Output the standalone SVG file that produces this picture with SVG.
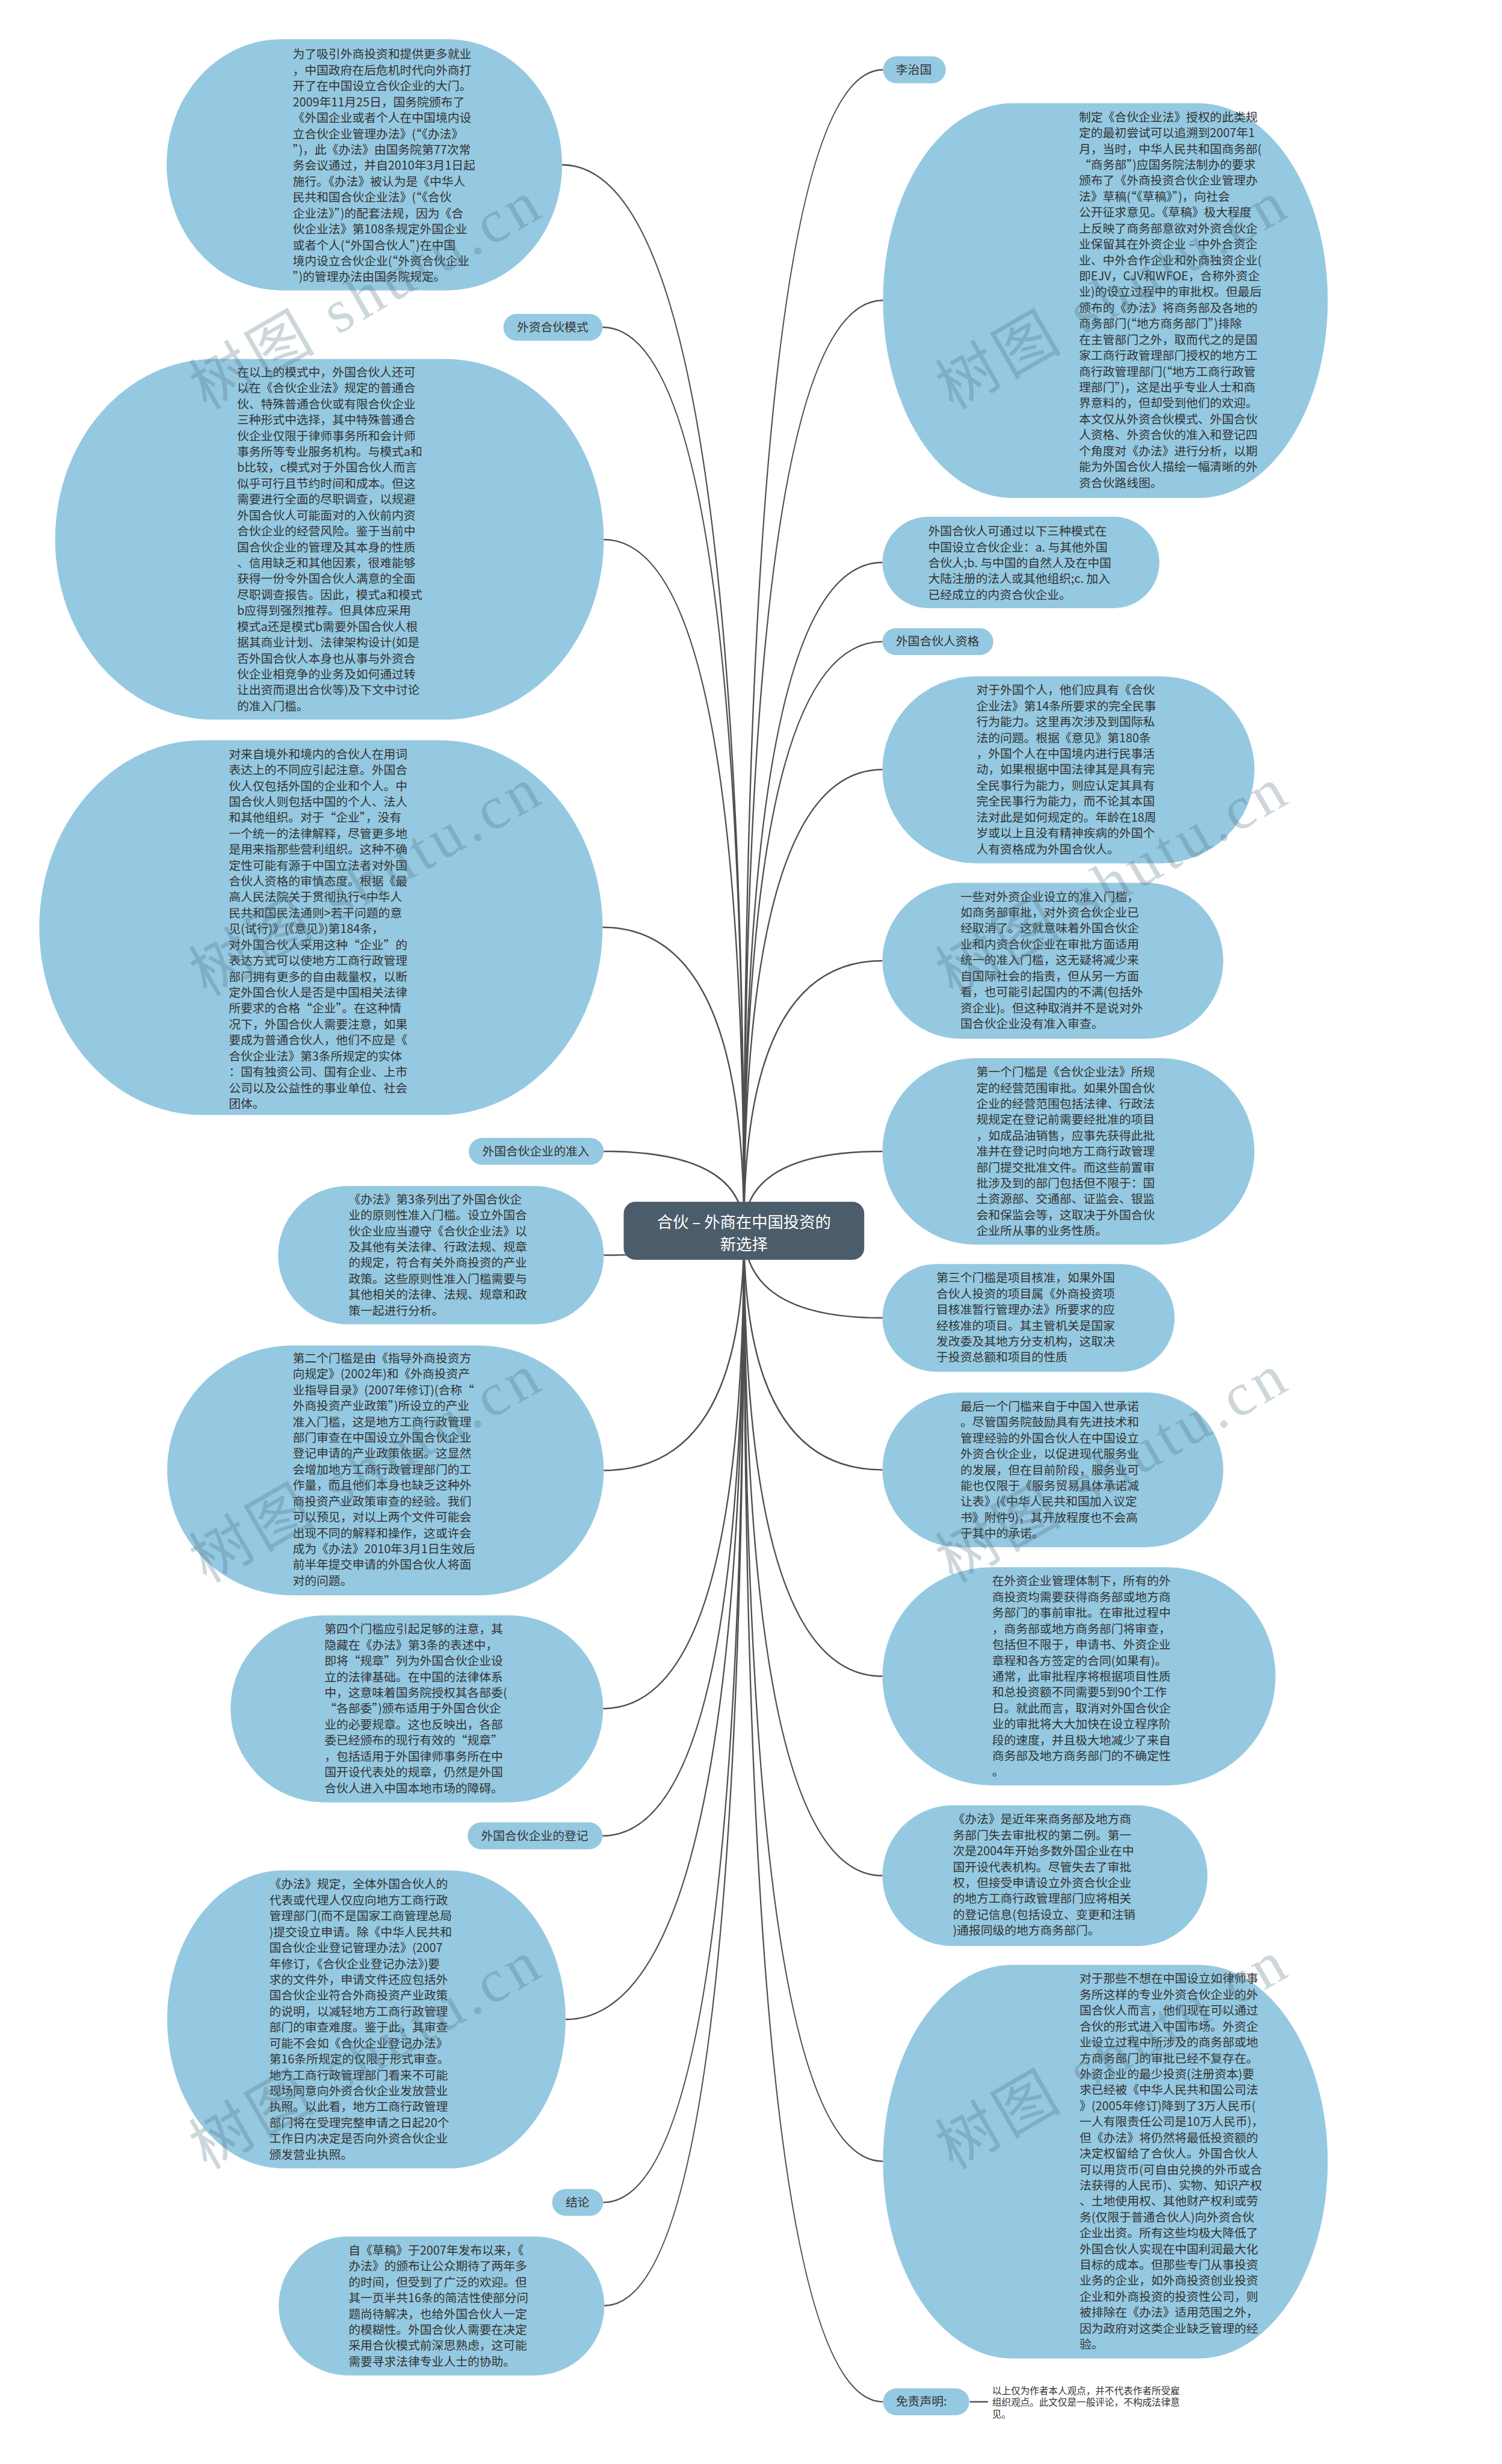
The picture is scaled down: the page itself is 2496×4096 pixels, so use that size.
<svg xmlns="http://www.w3.org/2000/svg" width="2496" height="4096" viewBox="0 0 2496 4096">
<style>
.n{fill:#95c9e1}
.lb{fill:#95c9e1}
.t{font-family:"Noto Sans CJK SC","Noto Sans",sans-serif;font-size:20.3px;fill:#333333}
.c{fill:none;stroke:#4f4f4f;stroke-width:2.5}
.ct{font-family:"Noto Sans CJK SC","Noto Sans",sans-serif;font-size:27px;fill:#ffffff;text-anchor:middle}
.d{font-family:"Noto Sans CJK SC","Noto Sans",sans-serif;font-size:16px;fill:#333333}
.wm{font-family:"Liberation Serif","Noto Sans CJK SC",serif;font-size:104px;fill:#4a6b7c;fill-opacity:0.28;letter-spacing:8px}
</style>
<rect x="0" y="0" width="2496" height="4096" fill="#ffffff"/>
<g transform="scale(0.975)">
<g id="connectors">
<path class="c" d="M1268 2098 Q1268 281 958 281"/>
<path class="c" d="M1268 2098 Q1268 558 1027 558"/>
<path class="c" d="M1268 2098 Q1268 920 1029 920"/>
<path class="c" d="M1268 2098 Q1268 1581 1027 1581"/>
<path class="c" d="M1268 2098 Q1268 1963 1029 1963"/>
<path class="c" d="M1268 2098 Q1268 2140 1029 2140"/>
<path class="c" d="M1268 2098 Q1268 2507 1029 2507"/>
<path class="c" d="M1268 2098 Q1268 2913 1028 2913"/>
<path class="c" d="M1268 2098 Q1268 3130 1027 3130"/>
<path class="c" d="M1268 2098 Q1268 3443 964 3443"/>
<path class="c" d="M1268 2098 Q1268 3755 1028 3755"/>
<path class="c" d="M1268 2098 Q1268 3931 1030 3931"/>
<path class="c" d="M1268 2098 Q1268 119 1505 119"/>
<path class="c" d="M1268 2098 Q1268 512 1505 512"/>
<path class="c" d="M1268 2098 Q1268 959 1504 959"/>
<path class="c" d="M1268 2098 Q1268 1094 1504 1094"/>
<path class="c" d="M1268 2098 Q1268 1312 1504 1312"/>
<path class="c" d="M1268 2098 Q1268 1638 1504 1638"/>
<path class="c" d="M1268 2098 Q1268 1963 1504 1963"/>
<path class="c" d="M1268 2098 Q1268 2247 1504 2247"/>
<path class="c" d="M1268 2098 Q1268 2506 1504 2506"/>
<path class="c" d="M1268 2098 Q1268 2858 1504 2858"/>
<path class="c" d="M1268 2098 Q1268 3198 1504 3198"/>
<path class="c" d="M1268 2098 Q1268 3685 1505 3685"/>
<path class="c" d="M1268 2098 Q1268 4095 1505 4095"/>
<path class="c" d="M1653 4095 L1684 4095"/>
</g>

<g id="center">
<rect x="1063" y="2049" width="410" height="99" rx="20" fill="#4b5c6b"/>
<text class="ct" x="1268" y="2093">合伙 – 外商在中国投资的</text>
<text class="ct" x="1268" y="2131">新选择</text>
</g>

<g id="L1">
<rect class="n" x="284" y="67" width="674" height="428" rx="195" ry="214"/>
<text class="t" x="499" y="100"><tspan x="499">为了吸引外商投资和提供更多就业</tspan><tspan x="499" dy="27.1">，中国政府在后危机时代向外商打</tspan><tspan x="499" dy="27.1">开了在中国设立合伙企业的大门。</tspan><tspan x="499" dy="27.1">2009年11月25日，国务院颁布了</tspan><tspan x="499" dy="27.1">《外国企业或者个人在中国境内设</tspan><tspan x="499" dy="27.1">立合伙企业管理办法》(“《办法》</tspan><tspan x="499" dy="27.1">”)，此《办法》由国务院第77次常</tspan><tspan x="499" dy="27.1">务会议通过，并自2010年3月1日起</tspan><tspan x="499" dy="27.1">施行。《办法》被认为是《中华人</tspan><tspan x="499" dy="27.1">民共和国合伙企业法》(“《合伙</tspan><tspan x="499" dy="27.1">企业法》”)的配套法规，因为《合</tspan><tspan x="499" dy="27.1">伙企业法》第108条规定外国企业</tspan><tspan x="499" dy="27.1">或者个人(“外国合伙人”)在中国</tspan><tspan x="499" dy="27.1">境内设立合伙企业(“外资合伙企业</tspan><tspan x="499" dy="27.1">”)的管理办法由国务院规定。</tspan></text>
</g>

<g id="label-mode">
<rect class="lb" x="858" y="535" width="169" height="46" rx="23"/>
<text class="t" x="881" y="565">外资合伙模式</text>
</g>

<g id="L2">
<rect class="n" x="94" y="612" width="935" height="615" rx="271" ry="307.5"/>
<text class="t" x="404" y="642"><tspan x="404">在以上的模式中，外国合伙人还可</tspan><tspan x="404" dy="27.1">以在《合伙企业法》规定的普通合</tspan><tspan x="404" dy="27.1">伙、特殊普通合伙或有限合伙企业</tspan><tspan x="404" dy="27.1">三种形式中选择，其中特殊普通合</tspan><tspan x="404" dy="27.1">伙企业仅限于律师事务所和会计师</tspan><tspan x="404" dy="27.1">事务所等专业服务机构。与模式a和</tspan><tspan x="404" dy="27.1">b比较，c模式对于外国合伙人而言</tspan><tspan x="404" dy="27.1">似乎可行且节约时间和成本。但这</tspan><tspan x="404" dy="27.1">需要进行全面的尽职调查，以规避</tspan><tspan x="404" dy="27.1">外国合伙人可能面对的入伙前内资</tspan><tspan x="404" dy="27.1">合伙企业的经营风险。鉴于当前中</tspan><tspan x="404" dy="27.1">国合伙企业的管理及其本身的性质</tspan><tspan x="404" dy="27.1">、信用缺乏和其他因素，很难能够</tspan><tspan x="404" dy="27.1">获得一份令外国合伙人满意的全面</tspan><tspan x="404" dy="27.1">尽职调查报告。因此，模式a和模式</tspan><tspan x="404" dy="27.1">b应得到强烈推荐。但具体应采用</tspan><tspan x="404" dy="27.1">模式a还是模式b需要外国合伙人根</tspan><tspan x="404" dy="27.1">据其商业计划、法律架构设计(如是</tspan><tspan x="404" dy="27.1">否外国合伙人本身也从事与外资合</tspan><tspan x="404" dy="27.1">伙企业相竞争的业务及如何通过转</tspan><tspan x="404" dy="27.1">让出资而退出合伙等)及下文中讨论</tspan><tspan x="404" dy="27.1">的准入门槛。</tspan></text>
</g>

<g id="L3">
<rect class="n" x="67" y="1262" width="960" height="639" rx="278" ry="319.5"/>
<text class="t" x="390" y="1293"><tspan x="390">对来自境外和境内的合伙人在用词</tspan><tspan x="390" dy="27.1">表达上的不同应引起注意。外国合</tspan><tspan x="390" dy="27.1">伙人仅包括外国的企业和个人。中</tspan><tspan x="390" dy="27.1">国合伙人则包括中国的个人、法人</tspan><tspan x="390" dy="27.1">和其他组织。对于“企业”，没有</tspan><tspan x="390" dy="27.1">一个统一的法律解释，尽管更多地</tspan><tspan x="390" dy="27.1">是用来指那些营利组织。这种不确</tspan><tspan x="390" dy="27.1">定性可能有源于中国立法者对外国</tspan><tspan x="390" dy="27.1">合伙人资格的审慎态度。根据《最</tspan><tspan x="390" dy="27.1">高人民法院关于贯彻执行&lt;中华人</tspan><tspan x="390" dy="27.1">民共和国民法通则&gt;若干问题的意</tspan><tspan x="390" dy="27.1">见(试行)》(《意见》)第184条，</tspan><tspan x="390" dy="27.1">对外国合伙人采用这种“企业”的</tspan><tspan x="390" dy="27.1">表达方式可以使地方工商行政管理</tspan><tspan x="390" dy="27.1">部门拥有更多的自由裁量权，以断</tspan><tspan x="390" dy="27.1">定外国合伙人是否是中国相关法律</tspan><tspan x="390" dy="27.1">所要求的合格“企业”。在这种情</tspan><tspan x="390" dy="27.1">况下，外国合伙人需要注意，如果</tspan><tspan x="390" dy="27.1">要成为普通合伙人，他们不应是《</tspan><tspan x="390" dy="27.1">合伙企业法》第3条所规定的实体</tspan><tspan x="390" dy="27.1">：国有独资公司、国有企业、上市</tspan><tspan x="390" dy="27.1">公司以及公益性的事业单位、社会</tspan><tspan x="390" dy="27.1">团体。</tspan></text>
</g>

<g id="label-entry">
<rect class="lb" x="799" y="1940" width="230" height="46" rx="23"/>
<text class="t" x="822" y="1970">外国合伙企业的准入</text>
</g>

<g id="L4">
<rect class="n" x="474" y="2022" width="555" height="236" rx="118" ry="118"/>
<text class="t" x="594" y="2052"><tspan x="594">《办法》第3条列出了外国合伙企</tspan><tspan x="594" dy="27.1">业的原则性准入门槛。设立外国合</tspan><tspan x="594" dy="27.1">伙企业应当遵守《合伙企业法》以</tspan><tspan x="594" dy="27.1">及其他有关法律、行政法规、规章</tspan><tspan x="594" dy="27.1">的规定，符合有关外商投资的产业</tspan><tspan x="594" dy="27.1">政策。这些原则性准入门槛需要与</tspan><tspan x="594" dy="27.1">其他相关的法律、法规、规章和政</tspan><tspan x="594" dy="27.1">策一起进行分析。</tspan></text>
</g>

<g id="L5">
<rect class="n" x="285" y="2294" width="744" height="426" rx="213" ry="213"/>
<text class="t" x="499" y="2323"><tspan x="499">第二个门槛是由《指导外商投资方</tspan><tspan x="499" dy="27.1">向规定》(2002年)和《外商投资产</tspan><tspan x="499" dy="27.1">业指导目录》(2007年修订)(合称“</tspan><tspan x="499" dy="27.1">外商投资产业政策”)所设立的产业</tspan><tspan x="499" dy="27.1">准入门槛，这是地方工商行政管理</tspan><tspan x="499" dy="27.1">部门审查在中国设立外国合伙企业</tspan><tspan x="499" dy="27.1">登记申请的产业政策依据。这显然</tspan><tspan x="499" dy="27.1">会增加地方工商行政管理部门的工</tspan><tspan x="499" dy="27.1">作量，而且他们本身也缺乏这种外</tspan><tspan x="499" dy="27.1">商投资产业政策审查的经验。我们</tspan><tspan x="499" dy="27.1">可以预见，对以上两个文件可能会</tspan><tspan x="499" dy="27.1">出现不同的解释和操作，这或许会</tspan><tspan x="499" dy="27.1">成为《办法》2010年3月1日生效后</tspan><tspan x="499" dy="27.1">前半年提交申请的外国合伙人将面</tspan><tspan x="499" dy="27.1">对的问题。</tspan></text>
</g>

<g id="L6">
<rect class="n" x="393" y="2754" width="635" height="319" rx="159.5" ry="159.5"/>
<text class="t" x="553" y="2785"><tspan x="553">第四个门槛应引起足够的注意，其</tspan><tspan x="553" dy="27.1">隐藏在《办法》第3条的表述中，</tspan><tspan x="553" dy="27.1">即将“规章”列为外国合伙企业设</tspan><tspan x="553" dy="27.1">立的法律基础。在中国的法律体系</tspan><tspan x="553" dy="27.1">中，这意味着国务院授权其各部委(</tspan><tspan x="553" dy="27.1">“各部委”)颁布适用于外国合伙企</tspan><tspan x="553" dy="27.1">业的必要规章。这也反映出，各部</tspan><tspan x="553" dy="27.1">委已经颁布的现行有效的“规章”</tspan><tspan x="553" dy="27.1">，包括适用于外国律师事务所在中</tspan><tspan x="553" dy="27.1">国开设代表处的规章，仍然是外国</tspan><tspan x="553" dy="27.1">合伙人进入中国本地市场的障碍。</tspan></text>
</g>

<g id="label-registration">
<rect class="lb" x="797" y="3107" width="230" height="46" rx="23"/>
<text class="t" x="820" y="3137">外国合伙企业的登记</text>
</g>

<g id="L7">
<rect class="n" x="285" y="3189" width="679" height="508" rx="197" ry="254"/>
<text class="t" x="459" y="3220"><tspan x="459">《办法》规定，全体外国合伙人的</tspan><tspan x="459" dy="27.1">代表或代理人仅应向地方工商行政</tspan><tspan x="459" dy="27.1">管理部门(而不是国家工商管理总局</tspan><tspan x="459" dy="27.1">)提交设立申请。除《中华人民共和</tspan><tspan x="459" dy="27.1">国合伙企业登记管理办法》(2007</tspan><tspan x="459" dy="27.1">年修订，《合伙企业登记办法》)要</tspan><tspan x="459" dy="27.1">求的文件外，申请文件还应包括外</tspan><tspan x="459" dy="27.1">国合伙企业符合外商投资产业政策</tspan><tspan x="459" dy="27.1">的说明，以减轻地方工商行政管理</tspan><tspan x="459" dy="27.1">部门的审查难度。鉴于此，其审查</tspan><tspan x="459" dy="27.1">可能不会如《合伙企业登记办法》</tspan><tspan x="459" dy="27.1">第16条所规定的仅限于形式审查。</tspan><tspan x="459" dy="27.1">地方工商行政管理部门看来不可能</tspan><tspan x="459" dy="27.1">现场同意向外资合伙企业发放营业</tspan><tspan x="459" dy="27.1">执照。以此看，地方工商行政管理</tspan><tspan x="459" dy="27.1">部门将在受理完整申请之日起20个</tspan><tspan x="459" dy="27.1">工作日内决定是否向外资合伙企业</tspan><tspan x="459" dy="27.1">颁发营业执照。</tspan></text>
</g>

<g id="label-conclusion">
<rect class="lb" x="941" y="3732" width="87" height="46" rx="23"/>
<text class="t" x="964" y="3762">结论</text>
</g>

<g id="L8">
<rect class="n" x="475" y="3813" width="555" height="237" rx="118.5" ry="118.5"/>
<text class="t" x="594" y="3844"><tspan x="594">自《草稿》于2007年发布以来，《</tspan><tspan x="594" dy="27.1">办法》的颁布让公众期待了两年多</tspan><tspan x="594" dy="27.1">的时间，但受到了广泛的欢迎。但</tspan><tspan x="594" dy="27.1">其一页半共16条的简洁性使部分问</tspan><tspan x="594" dy="27.1">题尚待解决，也给外国合伙人一定</tspan><tspan x="594" dy="27.1">的模糊性。外国合伙人需要在决定</tspan><tspan x="594" dy="27.1">采用合伙模式前深思熟虑，这可能</tspan><tspan x="594" dy="27.1">需要寻求法律专业人士的协助。</tspan></text>
</g>

<g id="label-author">
<rect class="lb" x="1505" y="96" width="107" height="46" rx="23"/>
<text class="t" x="1527" y="126">李治国</text>
</g>

<g id="R1">
<rect class="n" x="1505" y="176" width="758" height="673" rx="220" ry="336.5"/>
<text class="t" x="1839" y="207"><tspan x="1839">制定《合伙企业法》授权的此类规</tspan><tspan x="1839" dy="27.1">定的最初尝试可以追溯到2007年1</tspan><tspan x="1839" dy="27.1">月，当时，中华人民共和国商务部(</tspan><tspan x="1839" dy="27.1">“商务部”)应国务院法制办的要求</tspan><tspan x="1839" dy="27.1">颁布了《外商投资合伙企业管理办</tspan><tspan x="1839" dy="27.1">法》草稿(“《草稿》”)，向社会</tspan><tspan x="1839" dy="27.1">公开征求意见。《草稿》极大程度</tspan><tspan x="1839" dy="27.1">上反映了商务部意欲对外资合伙企</tspan><tspan x="1839" dy="27.1">业保留其在外资企业 – 中外合资企</tspan><tspan x="1839" dy="27.1">业、中外合作企业和外商独资企业(</tspan><tspan x="1839" dy="27.1">即EJV，CJV和WFOE，合称外资企</tspan><tspan x="1839" dy="27.1">业)的设立过程中的审批权。但最后</tspan><tspan x="1839" dy="27.1">颁布的《办法》将商务部及各地的</tspan><tspan x="1839" dy="27.1">商务部门(“地方商务部门”)排除</tspan><tspan x="1839" dy="27.1">在主管部门之外，取而代之的是国</tspan><tspan x="1839" dy="27.1">家工商行政管理部门授权的地方工</tspan><tspan x="1839" dy="27.1">商行政管理部门(“地方工商行政管</tspan><tspan x="1839" dy="27.1">理部门”)，这是出乎专业人士和商</tspan><tspan x="1839" dy="27.1">界意料的，但却受到他们的欢迎。</tspan><tspan x="1839" dy="27.1">本文仅从外资合伙模式、外国合伙</tspan><tspan x="1839" dy="27.1">人资格、外资合伙的准入和登记四</tspan><tspan x="1839" dy="27.1">个角度对《办法》进行分析，以期</tspan><tspan x="1839" dy="27.1">能为外国合伙人描绘一幅清晰的外</tspan><tspan x="1839" dy="27.1">资合伙路线图。</tspan></text>
</g>

<g id="R2">
<rect class="n" x="1504" y="881" width="472" height="156" rx="78" ry="78"/>
<text class="t" x="1582" y="913"><tspan x="1582">外国合伙人可通过以下三种模式在</tspan><tspan x="1582" dy="27.1">中国设立合伙企业：a. 与其他外国</tspan><tspan x="1582" dy="27.1">合伙人;b. 与中国的自然人及在中国</tspan><tspan x="1582" dy="27.1">大陆注册的法人或其他组织;c. 加入</tspan><tspan x="1582" dy="27.1">已经成立的内资合伙企业。</tspan></text>
</g>

<g id="label-qualification">
<rect class="lb" x="1504" y="1071" width="189" height="46" rx="23"/>
<text class="t" x="1527" y="1101">外国合伙人资格</text>
</g>

<g id="R3">
<rect class="n" x="1504" y="1153" width="634" height="319" rx="159.5" ry="159.5"/>
<text class="t" x="1664" y="1184"><tspan x="1664">对于外国个人，他们应具有《合伙</tspan><tspan x="1664" dy="27.1">企业法》第14条所要求的完全民事</tspan><tspan x="1664" dy="27.1">行为能力。这里再次涉及到国际私</tspan><tspan x="1664" dy="27.1">法的问题。根据《意见》第180条</tspan><tspan x="1664" dy="27.1">，外国个人在中国境内进行民事活</tspan><tspan x="1664" dy="27.1">动，如果根据中国法律其是具有完</tspan><tspan x="1664" dy="27.1">全民事行为能力，则应认定其具有</tspan><tspan x="1664" dy="27.1">完全民事行为能力，而不论其本国</tspan><tspan x="1664" dy="27.1">法对此是如何规定的。年龄在18周</tspan><tspan x="1664" dy="27.1">岁或以上且没有精神疾病的外国个</tspan><tspan x="1664" dy="27.1">人有资格成为外国合伙人。</tspan></text>
</g>

<g id="R4">
<rect class="n" x="1504" y="1505" width="581" height="266" rx="133" ry="133"/>
<text class="t" x="1637" y="1536"><tspan x="1637">一些对外资企业设立的准入门槛，</tspan><tspan x="1637" dy="27.1">如商务部审批，对外资合伙企业已</tspan><tspan x="1637" dy="27.1">经取消了。这就意味着外国合伙企</tspan><tspan x="1637" dy="27.1">业和内资合伙企业在审批方面适用</tspan><tspan x="1637" dy="27.1">统一的准入门槛，这无疑将减少来</tspan><tspan x="1637" dy="27.1">自国际社会的指责，但从另一方面</tspan><tspan x="1637" dy="27.1">看，也可能引起国内的不满(包括外</tspan><tspan x="1637" dy="27.1">资企业)。但这种取消并不是说对外</tspan><tspan x="1637" dy="27.1">国合伙企业没有准入审查。</tspan></text>
</g>

<g id="R5">
<rect class="n" x="1504" y="1804" width="634" height="318" rx="159" ry="159"/>
<text class="t" x="1664" y="1835"><tspan x="1664">第一个门槛是《合伙企业法》所规</tspan><tspan x="1664" dy="27.1">定的经营范围审批。如果外国合伙</tspan><tspan x="1664" dy="27.1">企业的经营范围包括法律、行政法</tspan><tspan x="1664" dy="27.1">规规定在登记前需要经批准的项目</tspan><tspan x="1664" dy="27.1">，如成品油销售，应事先获得此批</tspan><tspan x="1664" dy="27.1">准并在登记时向地方工商行政管理</tspan><tspan x="1664" dy="27.1">部门提交批准文件。而这些前置审</tspan><tspan x="1664" dy="27.1">批涉及到的部门包括但不限于：国</tspan><tspan x="1664" dy="27.1">土资源部、交通部、证监会、银监</tspan><tspan x="1664" dy="27.1">会和保监会等，这取决于外国合伙</tspan><tspan x="1664" dy="27.1">企业所从事的业务性质。</tspan></text>
</g>

<g id="R6">
<rect class="n" x="1504" y="2155" width="498" height="184" rx="92" ry="92"/>
<text class="t" x="1596" y="2186"><tspan x="1596">第三个门槛是项目核准，如果外国</tspan><tspan x="1596" dy="27.1">合伙人投资的项目属《外商投资项</tspan><tspan x="1596" dy="27.1">目核准暂行管理办法》所要求的应</tspan><tspan x="1596" dy="27.1">经核准的项目。其主管机关是国家</tspan><tspan x="1596" dy="27.1">发改委及其地方分支机构，这取决</tspan><tspan x="1596" dy="27.1">于投资总额和项目的性质</tspan></text>
</g>

<g id="R7">
<rect class="n" x="1504" y="2374" width="581" height="264" rx="132" ry="132"/>
<text class="t" x="1637" y="2405"><tspan x="1637">最后一个门槛来自于中国入世承诺</tspan><tspan x="1637" dy="27.1">。尽管国务院鼓励具有先进技术和</tspan><tspan x="1637" dy="27.1">管理经验的外国合伙人在中国设立</tspan><tspan x="1637" dy="27.1">外资合伙企业，以促进现代服务业</tspan><tspan x="1637" dy="27.1">的发展，但在目前阶段，服务业可</tspan><tspan x="1637" dy="27.1">能也仅限于《服务贸易具体承诺减</tspan><tspan x="1637" dy="27.1">让表》(《中华人民共和国加入议定</tspan><tspan x="1637" dy="27.1">书》附件9)，其开放程度也不会高</tspan><tspan x="1637" dy="27.1">于其中的承诺。</tspan></text>
</g>

<g id="R8">
<rect class="n" x="1504" y="2672" width="670" height="372" rx="186" ry="186"/>
<text class="t" x="1691" y="2703"><tspan x="1691">在外资企业管理体制下，所有的外</tspan><tspan x="1691" dy="27.1">商投资均需要获得商务部或地方商</tspan><tspan x="1691" dy="27.1">务部门的事前审批。在审批过程中</tspan><tspan x="1691" dy="27.1">，商务部或地方商务部门将审查，</tspan><tspan x="1691" dy="27.1">包括但不限于，申请书、外资企业</tspan><tspan x="1691" dy="27.1">章程和各方签定的合同(如果有)。</tspan><tspan x="1691" dy="27.1">通常，此审批程序将根据项目性质</tspan><tspan x="1691" dy="27.1">和总投资额不同需要5到90个工作</tspan><tspan x="1691" dy="27.1">日。就此而言，取消对外国合伙企</tspan><tspan x="1691" dy="27.1">业的审批将大大加快在设立程序阶</tspan><tspan x="1691" dy="27.1">段的速度，并且极大地减少了来自</tspan><tspan x="1691" dy="27.1">商务部及地方商务部门的不确定性</tspan><tspan x="1691" dy="27.1">。</tspan></text>
</g>

<g id="R9">
<rect class="n" x="1504" y="3078" width="554" height="240" rx="120" ry="120"/>
<text class="t" x="1624" y="3109"><tspan x="1624">《办法》是近年来商务部及地方商</tspan><tspan x="1624" dy="27.1">务部门失去审批权的第二例。第一</tspan><tspan x="1624" dy="27.1">次是2004年开始多数外国企业在中</tspan><tspan x="1624" dy="27.1">国开设代表机构。尽管失去了审批</tspan><tspan x="1624" dy="27.1">权，但接受申请设立外资合伙企业</tspan><tspan x="1624" dy="27.1">的地方工商行政管理部门应将相关</tspan><tspan x="1624" dy="27.1">的登记信息(包括设立、变更和注销</tspan><tspan x="1624" dy="27.1">)通报同级的地方商务部门。</tspan></text>
</g>

<g id="R10">
<rect class="n" x="1505" y="3350" width="758" height="671" rx="220" ry="335.5"/>
<text class="t" x="1840" y="3381"><tspan x="1840">对于那些不想在中国设立如律师事</tspan><tspan x="1840" dy="27.1">务所这样的专业外资合伙企业的外</tspan><tspan x="1840" dy="27.1">国合伙人而言，他们现在可以通过</tspan><tspan x="1840" dy="27.1">合伙的形式进入中国市场。外资企</tspan><tspan x="1840" dy="27.1">业设立过程中所涉及的商务部或地</tspan><tspan x="1840" dy="27.1">方商务部门的审批已经不复存在。</tspan><tspan x="1840" dy="27.1">外资企业的最少投资(注册资本)要</tspan><tspan x="1840" dy="27.1">求已经被《中华人民共和国公司法</tspan><tspan x="1840" dy="27.1">》(2005年修订)降到了3万人民币(</tspan><tspan x="1840" dy="27.1">一人有限责任公司是10万人民币)，</tspan><tspan x="1840" dy="27.1">但《办法》将仍然将最低投资额的</tspan><tspan x="1840" dy="27.1">决定权留给了合伙人。外国合伙人</tspan><tspan x="1840" dy="27.1">可以用货币(可自由兑换的外币或合</tspan><tspan x="1840" dy="27.1">法获得的人民币)、实物、知识产权</tspan><tspan x="1840" dy="27.1">、土地使用权、其他财产权利或劳</tspan><tspan x="1840" dy="27.1">务(仅限于普通合伙人)向外资合伙</tspan><tspan x="1840" dy="27.1">企业出资。所有这些均极大降低了</tspan><tspan x="1840" dy="27.1">外国合伙人实现在中国利润最大化</tspan><tspan x="1840" dy="27.1">目标的成本。但那些专门从事投资</tspan><tspan x="1840" dy="27.1">业务的企业，如外商投资创业投资</tspan><tspan x="1840" dy="27.1">企业和外商投资的投资性公司，则</tspan><tspan x="1840" dy="27.1">被排除在《办法》适用范围之外，</tspan><tspan x="1840" dy="27.1">因为政府对这类企业缺乏管理的经</tspan><tspan x="1840" dy="27.1">验。</tspan></text>
</g>

<g id="label-disclaimer">
<rect class="lb" x="1505" y="4072" width="147" height="46" rx="23"/>
<text class="t" x="1527" y="4102">免责声明:</text>
<text class="d" x="1691" y="4082"><tspan x="1691">以上仅为作者本人观点，并不代表作者所受雇</tspan><tspan x="1691" dy="20">组织观点。此文仅是一般评论，不构成法律意</tspan><tspan x="1691" dy="20">见。</tspan></text>
</g>

<g id="watermarks">
<text class="wm" transform="translate(352 700) rotate(-30)">树图 shutu.cn</text>
<text class="wm" transform="translate(352 1700) rotate(-30)">树图 shutu.cn</text>
<text class="wm" transform="translate(352 2700) rotate(-30)">树图 shutu.cn</text>
<text class="wm" transform="translate(352 3700) rotate(-30)">树图 shutu.cn</text>
<text class="wm" transform="translate(1624 700) rotate(-30)">树图 shutu.cn</text>
<text class="wm" transform="translate(1624 1700) rotate(-30)">树图 shutu.cn</text>
<text class="wm" transform="translate(1624 2700) rotate(-30)">树图 shutu.cn</text>
<text class="wm" transform="translate(1624 3700) rotate(-30)">树图 shutu.cn</text>
</g>
</g>
</svg>
